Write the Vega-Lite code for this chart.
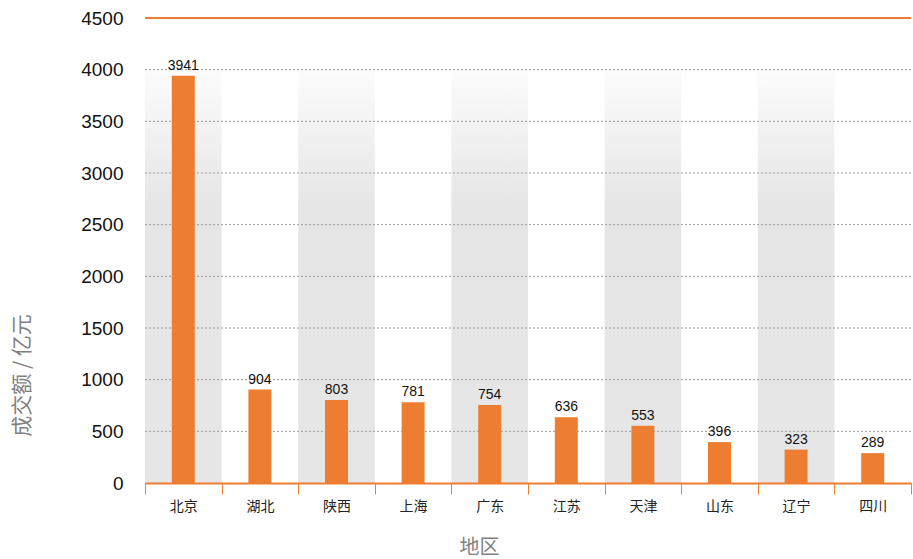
{
  "$schema": "https://vega.github.io/schema/vega-lite/v6.json",
  "width": 766,
  "height": 465,
  "autosize": {"type": "none"},
  "padding": {"left": 145, "top": 18, "right": 2, "bottom": 76},
  "background": "#ffffff",
  "config": {
    "view": {"stroke": null},
    "font": "Liberation Sans, Noto Sans CJK SC"
  },
  "datasets": {
    "main": [
      {"地区": "北京", "成交额": 3941},
      {"地区": "湖北", "成交额": 904},
      {"地区": "陕西", "成交额": 803},
      {"地区": "上海", "成交额": 781},
      {"地区": "广东", "成交额": 754},
      {"地区": "江苏", "成交额": 636},
      {"地区": "天津", "成交额": 553},
      {"地区": "山东", "成交额": 396},
      {"地区": "辽宁", "成交额": 323},
      {"地区": "四川", "成交额": 289}
    ],
    "grid": [
      {"g": 500}, {"g": 1000}, {"g": 1500}, {"g": 2000},
      {"g": 2500}, {"g": 3000}, {"g": 3500}, {"g": 4000}
    ]
  },
  "resolve": {"scale": {"x": "shared", "y": "shared"}},
  "layer": [
    {
      "data": {"name": "main"},
      "transform": [
        {"window": [{"op": "row_number", "as": "idx"}]},
        {"filter": "datum.idx % 2 == 1"}
      ],
      "mark": {
        "type": "bar",
        "width": {"band": 1},
        "fill": {
          "gradient": "linear",
          "x1": 0, "y1": 0, "x2": 0, "y2": 1,
          "stops": [
            {"offset": 0, "color": "#fcfcfc"},
            {"offset": 0.32, "color": "#e6e6e6"},
            {"offset": 1, "color": "#e6e6e6"}
          ]
        }
      },
      "encoding": {
        "x": {
          "field": "地区",
          "type": "nominal",
          "sort": null,
          "scale": {
            "domain": ["北京", "湖北", "陕西", "上海", "广东", "江苏", "天津", "山东", "辽宁", "四川"],
            "paddingInner": 0,
            "paddingOuter": 0
          },
          "axis": {
            "title": "地区",
            "titleFont": "Noto Sans CJK SC",
            "titleFontSize": 20,
            "titleFontWeight": "normal",
            "titleColor": "#7f7f7f",
            "titleX": 334,
            "titleY": 64,
            "titleBaseline": "middle",
            "titleAlign": "center",
            "labelAngle": 0,
            "labelFont": "Noto Sans CJK SC",
            "labelFontSize": 14,
            "labelColor": "#222222",
            "labelPadding": 5,
            "domainColor": "#ED7D31",
            "domainWidth": 2,
            "tickColor": "#ED7D31",
            "tickWidth": 1,
            "tickSize": 11,
            "tickBand": "extent",
            "zindex": 1
          }
        },
        "y": {
          "datum": 4000,
          "type": "quantitative",
          "scale": {"domain": [0, 4500], "nice": false},
          "axis": {
            "title": "成交额 / 亿元",
            "titleFont": "Noto Sans CJK SC",
            "titleFontSize": 21,
            "titleFontWeight": "normal",
            "titleColor": "#7f7f7f",
            "titleAngle": -90,
            "titleX": -123,
            "titleY": 357,
            "titleAlign": "center",
            "titleBaseline": "middle",
            "values": [0, 500, 1000, 1500, 2000, 2500, 3000, 3500, 4000, 4500],
            "format": "d",
            "labelFont": "Liberation Sans",
            "labelFontSize": 19,
            "labelColor": "#111111",
            "labelPadding": 22,
            "domain": false,
            "ticks": false,
            "grid": false
          }
        }
      }
    },
    {
      "data": {"name": "grid"},
      "mark": {"type": "rule", "color": "#9a9a9a", "strokeWidth": 1, "strokeDash": [2, 2]},
      "encoding": {
        "y": {"field": "g", "type": "quantitative"}
      }
    },
    {
      "data": {"name": "main"},
      "mark": {"type": "bar", "width": {"band": 0.3}, "color": "#ED7D31"},
      "encoding": {
        "x": {"field": "地区", "type": "nominal", "sort": null},
        "y": {"field": "成交额", "type": "quantitative"}
      }
    },
    {
      "data": {"name": "main"},
      "mark": {"type": "text", "dy": -10, "fontSize": 14, "font": "Liberation Sans", "color": "#111111"},
      "encoding": {
        "x": {"field": "地区", "type": "nominal", "sort": null},
        "y": {"field": "成交额", "type": "quantitative"},
        "text": {"field": "成交额", "type": "quantitative"}
      }
    },
    {
      "data": {"name": "grid"},
      "transform": [{"filter": "datum.g == 4000"}],
      "mark": {"type": "rule", "color": "#ED7D31", "strokeWidth": 2},
      "encoding": {
        "y": {"datum": 4500, "type": "quantitative"}
      }
    }
  ]
}
